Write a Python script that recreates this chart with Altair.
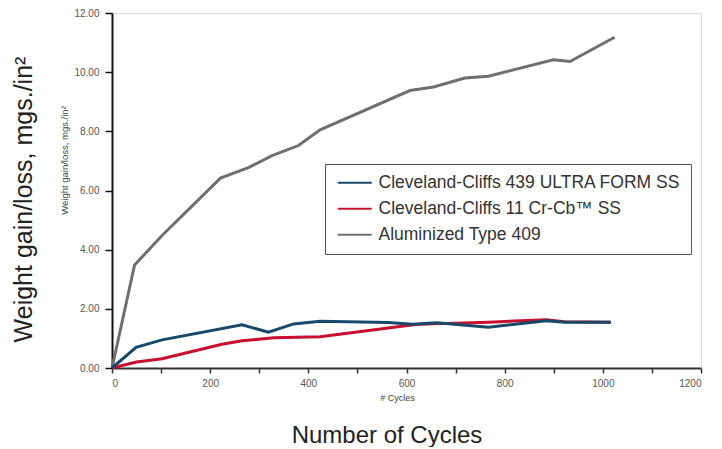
import altair as alt
import pandas as pd

S_BLUE = "Cleveland-Cliffs 439 ULTRA FORM SS"
S_RED = "Cleveland-Cliffs 11 Cr-Cb\u2122 SS"
S_GREY = "Aluminized Type 409"

grey_x = [0, 46, 102, 221, 279, 326, 380, 424, 607, 655, 719, 767, 899, 933, 1024]
grey_y = [0, 3.48, 4.48, 6.42, 6.78, 7.18, 7.52, 8.05, 9.38, 9.50, 9.80, 9.86, 10.42, 10.36, 11.18]

blue_x = [0, 49, 102, 265, 319, 370, 424, 563, 612, 662, 767, 885, 922, 1016]
blue_y = [0, 0.70, 0.95, 1.46, 1.21, 1.49, 1.58, 1.54, 1.48, 1.53, 1.38, 1.60, 1.55, 1.55]

red_x = [0, 50, 102, 224, 265, 330, 424, 618, 665, 767, 885, 922, 1016]
red_y = [0, 0.20, 0.31, 0.80, 0.92, 1.02, 1.06, 1.47, 1.50, 1.55, 1.63, 1.56, 1.55]

series = [S_BLUE, S_RED, S_GREY]
colors = ["#17496a", "#c8102e", "#6f6f6f"]

rows = []
for name, xs, ys in [(S_GREY, grey_x, grey_y), (S_RED, red_x, red_y), (S_BLUE, blue_x, blue_y)]:
    for i, (x, y) in enumerate(zip(xs, ys)):
        rows.append({"series": name, "cycles": x, "weight": y, "i": i})
df = pd.DataFrame(rows)

FONT = "Liberation Sans"

lines = alt.Chart(df).mark_line(strokeWidth=3, strokeJoin="miter").encode(
    x=alt.X("cycles:Q",
            scale=alt.Scale(domain=[0, 1200], nice=False, zero=True),
            axis=alt.Axis(values=list(range(0, 1300, 100)),
                          labelExpr="datum.value % 200 == 0 ? format(datum.value, 'd') : ''",
                          title="# Cycles", titleFontSize=9, titleFontWeight="normal",
                          titleColor="#444", titleX=285, titleY=29, titleBaseline="middle",
                          titleAlign="center",
                          labelFontSize=10, labelColor="#555", labelPadding=5,
                          tickSize=5, tickColor="#333", tickWidth=1.5,
                          domainColor="#333", domainWidth=2, grid=False)),
    y=alt.Y("weight:Q",
            scale=alt.Scale(domain=[0, 12], nice=False),
            axis=alt.Axis(values=[0, 2, 4, 6, 8, 10, 12], format=".2f",
                          title="Weight gain/loss, mgs./in\u00b2", titleFontSize=9.5,
                          titleFontWeight="normal", titleColor="#444",
                          titleX=-48, titleY=147, titleAngle=270, titleAlign="center",
                          titleBaseline="middle",
                          labelFontSize=10, labelColor="#555", labelPadding=6,
                          tickSize=7, tickColor="#111", tickWidth=1.5,
                          domainColor="#111", domainWidth=2, grid=False)),
    color=alt.Color("series:N",
                    scale=alt.Scale(domain=series, range=colors),
                    legend=alt.Legend(title=None, orient="none", legendX=213, legendY=151,
                                      symbolType="M-2.5,0L2.5,0", symbolSize=185,
                                      symbolStrokeWidth=2, symbolOffset=11,
                                      labelFontSize=17.5, labelFont=FONT, labelColor="#333",
                                      labelOffset=15, labelLimit=500, rowPadding=7,
                                      padding=10, strokeColor="#555", fillColor="white")),
    detail="series:N",
    order="i:Q",
)

ytitle = alt.Chart(pd.DataFrame({"t": ["Weight gain/loss, mgs./in\u00b2"]})).mark_text(
    angle=270, align="center", baseline="alphabetic", fontSize=25, font=FONT, color="#222"
).encode(x=alt.value(-80), y=alt.value(186.5), text="t:N")

xtitle = alt.Chart(pd.DataFrame({"t": ["Number of Cycles"]})).mark_text(
    align="center", baseline="alphabetic", fontSize=24, font=FONT, color="#222"
).encode(x=alt.value(275), y=alt.value(430), text="t:N")

chart = alt.layer(lines, ytitle, xtitle).properties(
    width=589, height=355,
    autosize=alt.AutoSizeParams(type="none"),
    padding={"left": 104, "top": 5, "right": 13, "bottom": 79},
).configure_view(stroke="#111", strokeWidth=2).configure(font=FONT)

chart.save("out.html", embed_options={"renderer": "svg", "actions": False})
